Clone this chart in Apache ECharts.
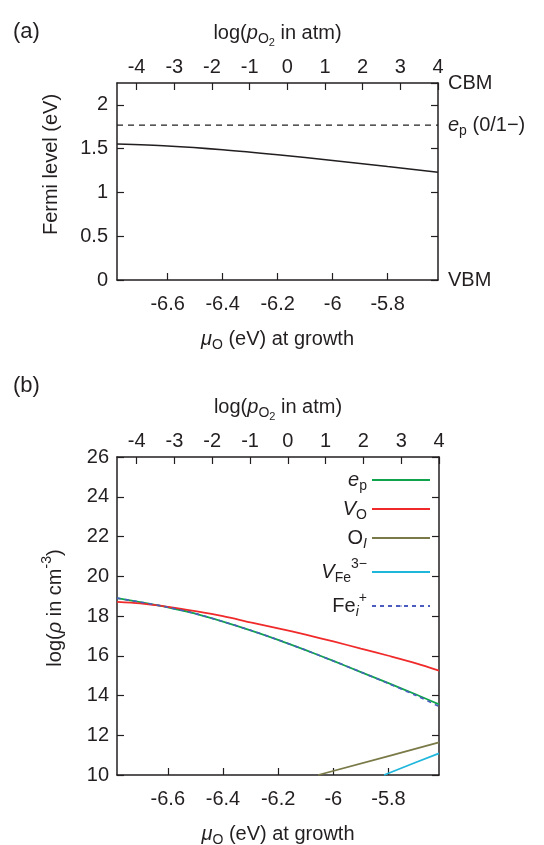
<!DOCTYPE html>
<html>
<head>
<meta charset="utf-8">
<script src="https://cdn.jsdelivr.net/npm/echarts@6/dist/echarts.min.js"></script>
<style>
  html, body { margin: 0; padding: 0; background: #fff; }
  #chart { width: 544px; height: 845px; }
</style>
</head>
<body>
<div id="chart"></div>
<script>
var FONT = '"Liberation Sans", Arial, sans-serif'
var INK = '#231f20'

// shared x ranges (bottom: mu_O in eV, top: log p_O2)
var muRange = [-6.784, -5.617]
var pO2Range = [-4.52, 4]

// panel (a): Fermi level at growth
var muA = [-6.784, -6.6, -6.4, -6.2, -6.0, -5.8, -5.617]
var fermiA = [1.553, 1.53, 1.487, 1.43, 1.365, 1.295, 1.232]
var epLevel = 1.77
var bandEdges = [0, 2.25]   // VBM, CBM

// panel (b): defect / carrier densities, log10(cm^-3)
var muB = [-6.784, -6.7, -6.6, -6.5, -6.4, -6.3, -6.2, -6.1, -6.0, -5.9, -5.8, -5.7, -5.617]
var ep  = [18.90, 18.70, 18.44, 18.12, 17.72, 17.28, 16.80, 16.28, 15.74, 15.18, 14.62, 14.05, 13.55]
var fei = [18.90, 18.70, 18.44, 18.12, 17.72, 17.28, 16.80, 16.28, 15.74, 15.18, 14.60, 14.00, 13.45]
var vo  = [18.71, 18.63, 18.46, 18.24, 17.99, 17.68, 17.38, 17.06, 16.72, 16.36, 16.00, 15.62, 15.25]
var muOI = [-6.055, -5.8, -5.617]
var oi   = [10.0, 10.95, 11.64]
var muVFe = [-5.816, -5.7, -5.617]
var vfe   = [10.0, 10.64, 11.09]

var legendNames = ['ep', 'VO', 'OI', 'VFe', 'Fei']
var legendText = {
  ep: '{i|e}{s|p}',
  VO: '{i|V}{s|O}',
  OI: '{n|O}{si|I}',
  VFe: '{i|V}{s|Fe}{sp|3−}',
  Fei: '{n|Fe}{si|i}{sp|+}'
}

function pairs (xs, ys) {
  return xs.map(function (x, i) { return [x, ys[i]] })
}

// rich text styles: sub / superscripts are shifted with padding, height kept small
function rich (size) {
  var sm = Math.round(size * 0.7)
  return {
    n: {fontFamily: FONT, fontSize: size, color: INK, lineHeight: 24},
    i: {fontFamily: FONT, fontSize: size, color: INK, fontStyle: 'italic', lineHeight: 24},
    s: {fontFamily: FONT, fontSize: sm, color: INK, lineHeight: 24, height: 6, padding: [12, 0, 0, 0]},
    si: {fontFamily: FONT, fontSize: sm, color: INK, fontStyle: 'italic', lineHeight: 24, height: 6, padding: [12, 0, 0, 0]},
    ss: {fontFamily: FONT, fontSize: Math.round(size * 0.55), color: INK, lineHeight: 24, height: 2, padding: [20, 0, 0, 0]},
    sp: {fontFamily: FONT, fontSize: sm, color: INK, lineHeight: 24, height: 2, padding: [0, 0, 16, 0]}
  }
}

var axisLine = {onZero: false, lineStyle: {color: INK, width: 1.5}}
var axisTick = {inside: true, length: 7, lineStyle: {color: INK, width: 1.2}}
var labelStyle = {fontFamily: FONT, fontSize: 20, color: INK}

function muAxis (grid) {
  return {
    gridIndex: grid, type: 'value', position: 'bottom',
    min: muRange[0], max: muRange[1], splitNumber: 6,
    axisLine: axisLine, axisTick: axisTick, splitLine: {show: false},
    axisLabel: Object.assign({margin: 14, showMinLabel: false, showMaxLabel: false}, labelStyle),
    name: '{i|μ}{s|O}{n| (eV) at growth}', nameLocation: 'middle', nameGap: 47,
    nameTextStyle: {rich: rich(20)}
  }
}

function pAxis (grid) {
  return {
    gridIndex: grid, type: 'value', position: 'top',
    min: pO2Range[0], max: pO2Range[1], splitNumber: 8,
    axisLine: axisLine, axisTick: axisTick, splitLine: {show: false},
    axisLabel: Object.assign({margin: 6, showMinLabel: false, showMaxLabel: true}, labelStyle),
    name: '{n|log(}{i|p}{s|O}{ss|2}{n| in atm)}', nameLocation: 'middle', nameGap: 38,
    nameTextStyle: {rich: rich(20)}
  }
}

var myChart = echarts.init(document.getElementById('chart'), null, {renderer: 'canvas'})

var options = {
  animation: false,
  backgroundColor: '#fff',
  title: [
    {text: '(a)', left: 8, top: 16, textStyle: {fontFamily: FONT, fontSize: 22, fontWeight: 'normal', color: INK}},
    {text: '(b)', left: 8, top: 370, textStyle: {fontFamily: FONT, fontSize: 22, fontWeight: 'normal', color: INK}}
  ],
  grid: [
    {left: 117, right: 106, top: 83, height: 197, outerBoundsMode: 'none'},
    {left: 117, right: 105, top: 457, height: 318, outerBoundsMode: 'none'}
  ],
  xAxis: [muAxis(0), pAxis(0), muAxis(1), pAxis(1)],
  yAxis: [
    {
      gridIndex: 0, type: 'value', position: 'left',
      min: bandEdges[0], max: bandEdges[1], interval: 0.5,
      axisLine: axisLine, axisTick: axisTick, splitLine: {show: false},
      axisLabel: Object.assign({margin: 9, showMaxLabel: false}, labelStyle),
      name: 'Fermi level (eV)', nameLocation: 'middle', nameGap: 56,
      nameTextStyle: {fontFamily: FONT, fontSize: 20, color: INK, padding: [0, 0, 0, 34]}
    },
    {
      gridIndex: 0, type: 'value', position: 'right',
      min: bandEdges[0], max: bandEdges[1], interval: 0.5,
      axisLine: axisLine, axisTick: axisTick, splitLine: {show: false},
      axisLabel: Object.assign({
        margin: 10, showMinLabel: true, showMaxLabel: true,
        formatter: function (v) {
          if (v === bandEdges[0]) return 'VBM'
          if (v === bandEdges[1]) return 'CBM'
          return ''
        }
      }, labelStyle)
    },
    {
      gridIndex: 1, type: 'value', position: 'left',
      min: 10, max: 26, interval: 2,
      axisLine: axisLine, axisTick: axisTick, splitLine: {show: false},
      axisLabel: Object.assign({margin: 8}, labelStyle),
      name: '{n|log(}{i|ρ}{n| in cm}{sp|-3}{n|)}', nameLocation: 'middle', nameGap: 50,
      nameTextStyle: {rich: rich(20), padding: [0, 0, 0, 16]}
    },
    {
      gridIndex: 1, type: 'value', position: 'right',
      min: 10, max: 26, interval: 2,
      axisLine: axisLine, axisTick: axisTick, splitLine: {show: false},
      axisLabel: {show: false}
    }
  ],
  legend: {
    data: legendNames,
    orient: 'vertical',
    align: 'right',
    right: 113,
    top: 470,
    padding: 0,
    itemGap: 6,
    itemWidth: 58,
    itemHeight: 2,
    formatter: function (name) { return legendText[name] },
    textStyle: {rich: rich(20)}
  },
  series: [
    {
      name: 'fermi', type: 'line', xAxisIndex: 0, yAxisIndex: 0,
      data: pairs(muA, fermiA), symbol: 'none', smooth: 0.3,
      lineStyle: {color: INK, width: 1.5}
    },
    {
      name: 'epLevel', type: 'line', xAxisIndex: 0, yAxisIndex: 0,
      data: pairs(muRange, [epLevel, epLevel]), symbol: 'none',
      lineStyle: {color: INK, width: 1.2, type: [6, 5]},
      endLabel: {
        show: true, distance: 10,
        formatter: '{i|e}{s|p}{n| (0/1−)}',
        rich: rich(20)
      }
    },
    {
      name: 'ep', type: 'line', xAxisIndex: 2, yAxisIndex: 2,
      data: pairs(muB, ep), symbol: 'none', smooth: 0.3, color: '#0ea34c',
      lineStyle: {color: '#0ea34c', width: 1.8}
    },
    {
      name: 'VO', type: 'line', xAxisIndex: 2, yAxisIndex: 2,
      data: pairs(muB, vo), symbol: 'none', smooth: 0.3, color: '#f02a2a',
      lineStyle: {color: '#f02a2a', width: 1.8}
    },
    {
      name: 'OI', type: 'line', xAxisIndex: 2, yAxisIndex: 2,
      data: pairs(muOI, oi), symbol: 'none', color: '#7a7a48',
      lineStyle: {color: '#7a7a48', width: 1.8}
    },
    {
      name: 'VFe', type: 'line', xAxisIndex: 2, yAxisIndex: 2,
      data: pairs(muVFe, vfe), symbol: 'none', color: '#1fb6dc',
      lineStyle: {color: '#1fb6dc', width: 1.8}
    },
    {
      name: 'Fei', type: 'line', xAxisIndex: 2, yAxisIndex: 2,
      data: pairs(muB, fei), symbol: 'none', smooth: 0.3, color: '#4a5cc0',
      lineStyle: {color: '#4a5cc0', width: 1.6, type: [4, 4]}
    }
  ]
}

myChart.setOption(options)
</script>
</body>
</html>
